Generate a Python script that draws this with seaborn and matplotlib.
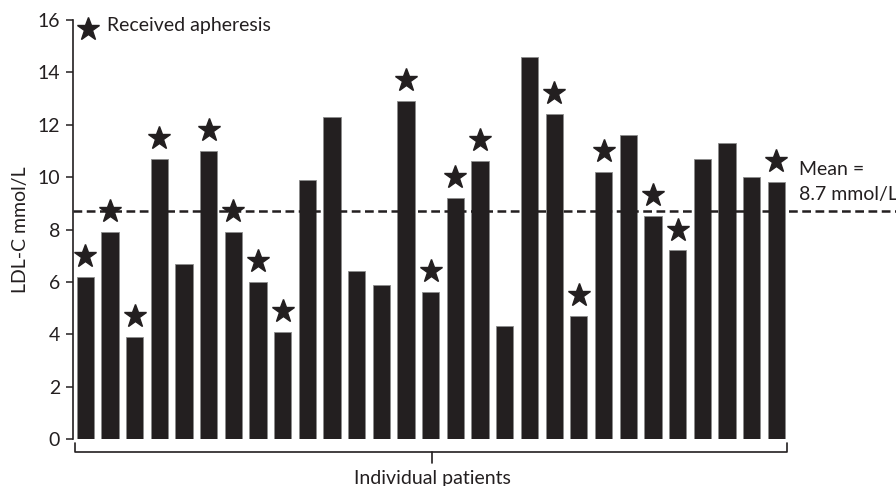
import numpy as np
import pandas as pd
import matplotlib
matplotlib.use("Agg")
import matplotlib.pyplot as plt
import seaborn as sns

# LDL-C per patient (mmol/L) and whether the patient received apheresis
ldl_values = [6.2, 7.9, 3.9, 10.7, 6.7, 11.0, 7.9, 6.0, 4.1, 9.9,
              12.3, 6.4, 5.9, 12.9, 5.6, 9.2, 10.6, 4.3, 14.6, 12.4,
              4.7, 10.2, 11.6, 8.5, 7.2, 10.7, 11.3, 10.0, 9.8]
apheresis = [1, 1, 1, 1, 0, 1, 1, 1, 1, 0,
             0, 0, 0, 1, 1, 1, 1, 0, 0, 1,
             1, 1, 0, 1, 1, 0, 0, 0, 1]
y_ticks = [0, 2, 4, 6, 8, 10, 12, 14, 16]

df = pd.DataFrame({"patient": np.arange(len(ldl_values)),
                   "ldl": ldl_values,
                   "apheresis": apheresis})
mean_ldl = float(np.mean(ldl_values))

sns.set_style("white")
plt.rcParams["font.family"] = ["Lato", "DejaVu Sans"]
INK = "#231f20"
FS = 14

fig = plt.figure(figsize=(8.96, 4.86), dpi=100)
ax = fig.add_axes([0.0811, 0.0967, 0.9189, 0.8621])

sns.barplot(data=df, x="patient", y="ldl", color=INK, width=0.7,
            edgecolor="#8c8c8c", linewidth=0.6, saturation=1, ax=ax)

# stars above bars of patients who received apheresis
star_rows = df[df["apheresis"] == 1]
ax.plot(star_rows["patient"], star_rows["ldl"] + 0.8, linestyle="none",
        marker="*", markersize=17, color=INK, clip_on=False)

# mean line and its label
ax.axhline(mean_ldl, color=INK, linestyle=(0, (3.5, 1.8)), linewidth=1.8)
ax.text(28.9, mean_ldl + 1.6, "Mean =", fontsize=FS, color=INK,
        va="center", ha="left")
ax.text(28.9, mean_ldl + 0.62, f"{mean_ldl:.1f} mmol/L", fontsize=FS,
        color=INK, va="center", ha="left")

# legend entry
ax.plot([0.11], [15.65], marker="*", markersize=17, color=INK,
        linestyle="none", clip_on=False)
ax.text(0.88, 15.8, "Received apheresis", fontsize=FS, color=INK,
        va="center", ha="left")

ax.set_xlim(-0.51, 32.85)
ax.set_ylim(0, 16)
ax.set_yticks(y_ticks)
ax.set_yticklabels([str(t) for t in y_ticks], fontsize=FS, color=INK)
ax.set_xticks([])
ax.set_xlabel("")
ax.set_ylabel("LDL-C mmol/L", fontsize=FS, color=INK, labelpad=6)
ax.tick_params(axis="y", direction="out", length=5, width=1.1,
               colors=INK, left=True, pad=4)
for side in ["top", "right", "bottom"]:
    ax.spines[side].set_visible(False)
ax.spines["left"].set_color(INK)
ax.spines["left"].set_linewidth(1.2)

# bracket grouping all patients
bx0, bx1, bmid = -0.42, 28.43, 14.05
by, bend, btick = -0.48, -0.15, -0.9
ax.plot([bx0, bx0, bx1, bx1], [bend, by, by, bend], color=INK,
        linewidth=1.2, clip_on=False)
ax.plot([bmid, bmid], [by, btick], color=INK, linewidth=1.2, clip_on=False)
ax.text(bmid, -1.52, "Individual patients", fontsize=FS, color=INK,
        ha="center", va="center", clip_on=False)

fig.savefig("out.png", dpi=100)
